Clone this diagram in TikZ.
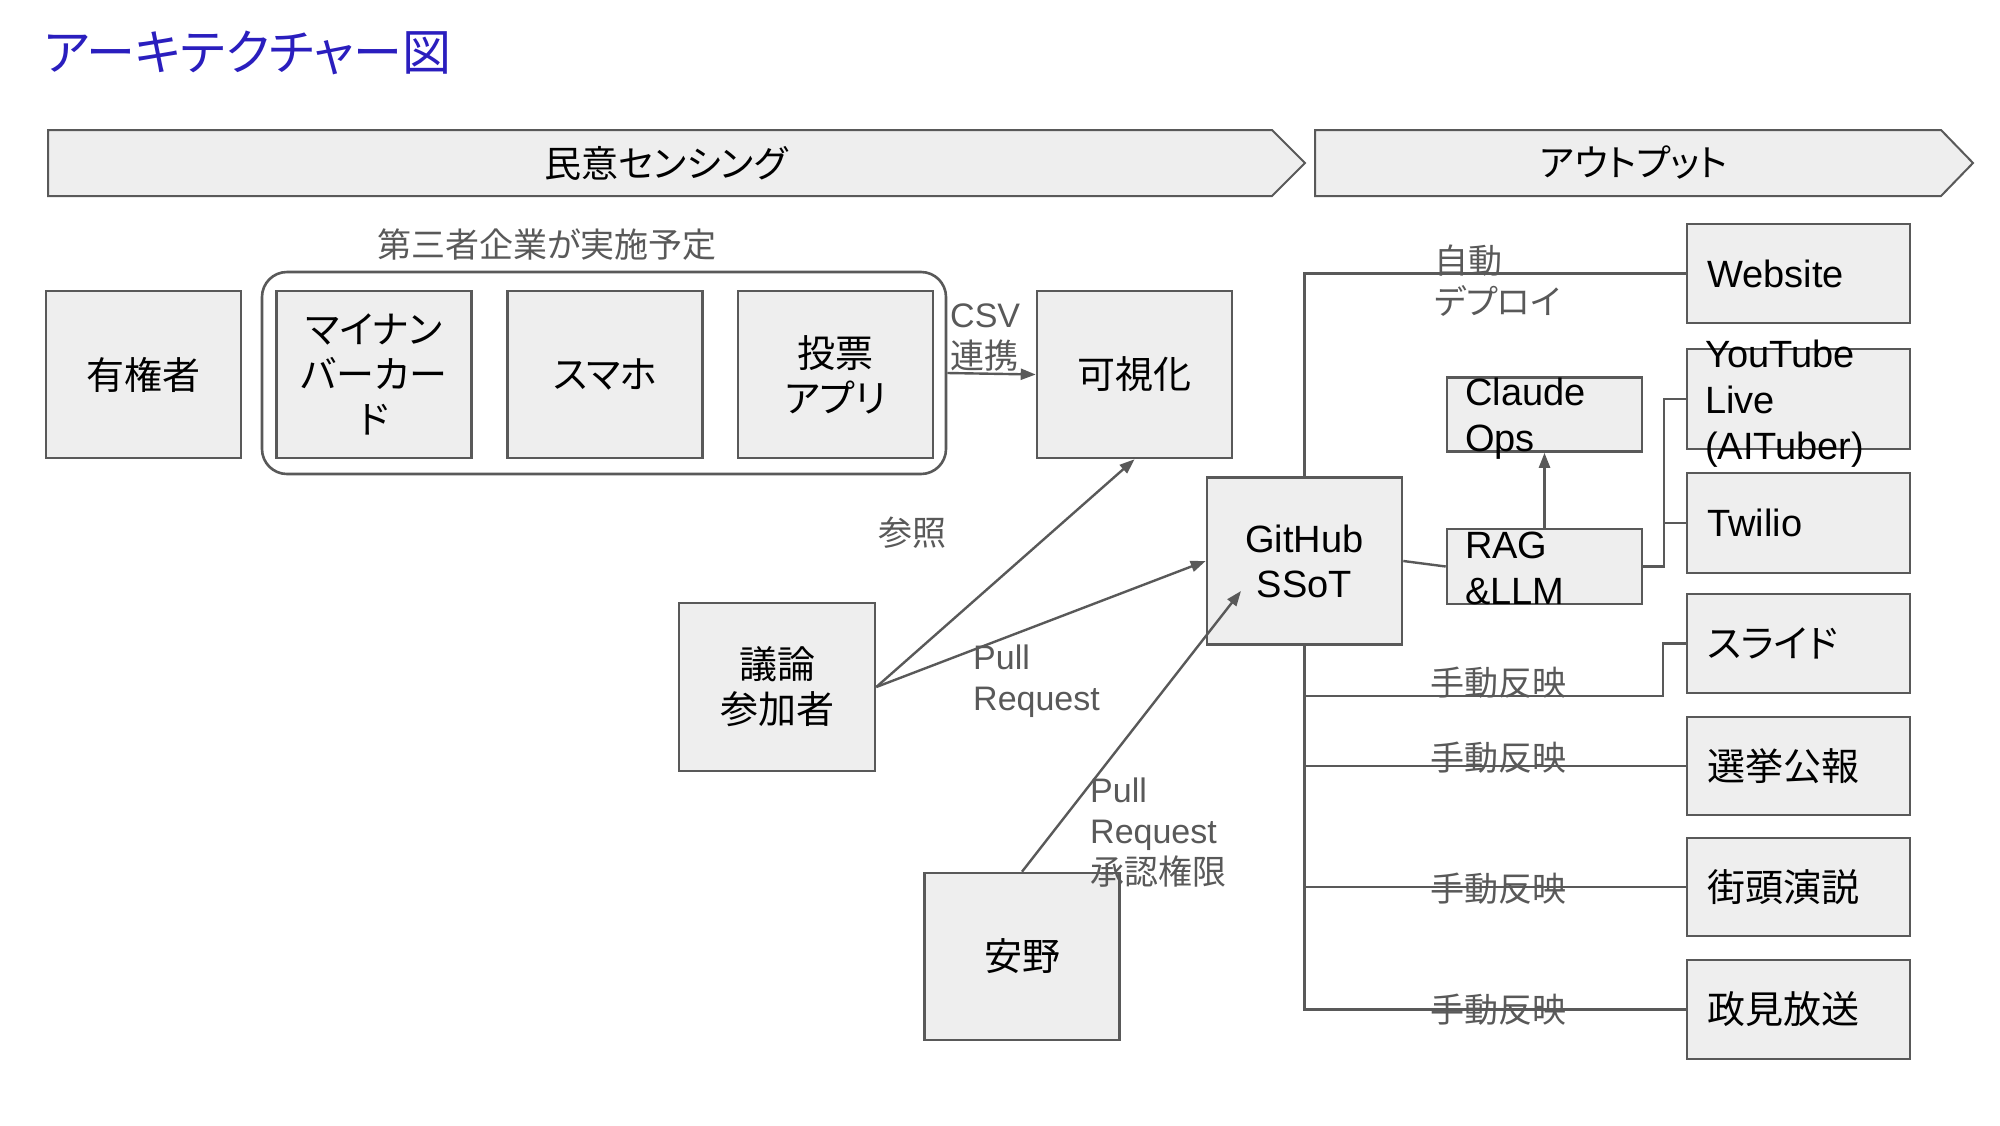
\documentclass[tikz,border=0pt]{standalone}
\usepackage{fontspec}
\setmainfont{Liberation Sans}
\newfontfamily\jpfont[RawFeature=+palt]{Noto Sans CJK JP}
\usetikzlibrary{arrows.meta}
\definecolor{boxfill}{HTML}{EEEEEE}
\definecolor{boxline}{HTML}{595959}
\definecolor{lblgray}{HTML}{595959}
\definecolor{titleblue}{HTML}{2A1EBE}
\newcommand\JP[1]{{\jpfont #1}}
\newcommand\EN[1]{{\normalfont #1}}
\begin{document}
\begin{tikzpicture}[x=1pt,y=-1pt,
  box/.style={draw=boxline, fill=boxfill, line width=2.6pt, inner sep=0pt,
    font=\jpfont\fontsize{38}{45}\selectfont, align=center, text=black},
  sq/.style={box, minimum width=195pt, minimum height=167pt},
  rbox/.style={box, minimum width=223pt, minimum height=99pt},
  mbox/.style={box, minimum width=195pt, minimum height=74pt},
  btxt/.style={inner sep=0pt, font=\fontsize{38}{46}\selectfont, align=left, text=black},
  jbtxt/.style={btxt, font=\jpfont\fontsize{38}{46}\selectfont},
  lbl/.style={inner sep=0pt, font=\jpfont\fontsize{34}{41}\selectfont, align=left, text=lblgray},
  chev/.style={draw=boxline, fill=boxfill, line width=2pt, line join=miter},
  hdr/.style={inner sep=0pt, font=\jpfont\fontsize{37}{44}\selectfont, text=black},
  conn/.style={draw=boxline, line width=2.4pt},
  arr/.style={-{Triangle[length=15pt,width=11pt]}}
]
\fill[white] (0,0) rectangle (2000,1125);
\useasboundingbox (0,0) rectangle (2000,1125);

% title
\node[anchor=west, inner sep=0pt, font=\jpfont\fontsize{49}{54}\selectfont, text=titleblue] (title) at (44,53) {アーキテクチャー図};

% header chevrons
\draw[chev] (48,130) -- (1272,130) -- (1305,163) -- (1272,196) -- (48,196) -- cycle;
\node[hdr] (hdr1) at (666,163) {民意センシング};
\draw[chev] (1315,130) -- (1941,130) -- (1973,163) -- (1941,196) -- (1315,196) -- cycle;
\node[hdr] (hdr2) at (1634,163) {アウトプット};

% group
\node[draw=boxline, line width=2.6pt, rounded corners=25pt, minimum width=684pt, minimum height=202pt] (grp) at (604,373) {};

% left boxes
\node[sq] (yuken) at (143.5,374.5) {有権者};
\node[sq] (mynum) at (374,374.5) {マイナン\\バーカー\\ド};
\node[sq] (sumaho) at (605,374.5) {スマホ};
\node[sq] (touhyou) at (835.5,374.5) {投票\\アプリ};
\node[sq] (vis) at (1134.5,374.5) {可視化};
\node[sq, font=\fontsize{38}{45}\selectfont] (gh) at (1304.5,561) {GitHub\\SSoT};
\node[sq, minimum width=196pt, minimum height=168pt] (giron) at (777,687) {議論\\参加者};
\node[sq] (anno) at (1022,956.5) {安野};

% middle boxes
\node[mbox] (claude) at (1544.5,414.5) {};
\node[mbox, minimum height=75pt] (rag) at (1544.5,566.5) {};

% right boxes
\node[rbox] (web) at (1798.5,273.5) {};
\node[rbox, minimum height=100pt] (yt) at (1798.5,399) {};
\node[rbox, minimum height=100pt] (twilio) at (1798.5,523) {};
\node[rbox] (slide) at (1798.5,643.5) {};
\node[rbox, minimum height=98pt] (kouhou) at (1798.5,766) {};
\node[rbox, minimum height=98pt] (gaitou) at (1798.5,887) {};
\node[rbox] (seiken) at (1798.5,1009.5) {};

% connectors
\draw[conn, arr] (grp.east) -- (vis.west);
\draw[conn, arr] (giron.east) -- (vis.south);
\draw[conn, arr] (giron.east) -- (gh.west);
\coordinate (ghin) at (1241,591);
\draw[conn, arr] (anno.north) -- (ghin);
\draw[conn] (gh.north) |- (web.west);
\draw[conn] (gh.east) -- (rag.west);
\draw[conn, arr] (rag.north) -- (claude.south);
\coordinate (ragj) at (1664,566.5);
\draw[conn] (rag.east) -- (ragj) |- (yt.west);
\draw[conn] (ragj) |- (twilio.west);
\draw[conn] (gh.south) |- (seiken.west);
\draw[conn] (gh.south |- kouhou.west) -- (kouhou.west);
\draw[conn] (gh.south |- gaitou.west) -- (gaitou.west);
\coordinate (slj) at (1663,696);
\draw[conn] (gh.south |- slj) -- (slj) |- (slide.west);

% box texts (left aligned)
\node[btxt, anchor=north west] (claudet) at (1465,378) {Claude\\Ops};
\node[btxt, anchor=north west] (ragt) at (1465,532) {RAG\\\&LLM};
\node[btxt, anchor=west] (webt) at (1707,273.5) {Website};
\node[btxt, anchor=north west] (ytt) at (1705,340) {YouTube\\Live\\(AITuber)};
\node[btxt, anchor=west] (twiliot) at (1707,523) {Twilio};
\node[jbtxt, anchor=west] (slidet) at (1707,643.5) {スライド};
\node[jbtxt, anchor=west] (kouhout) at (1707,766) {選挙公報};
\node[jbtxt, anchor=west] (gaitout) at (1707,887) {街頭演説};
\node[jbtxt, anchor=west] (seikent) at (1707,1009.5) {政見放送};

% labels
\node[lbl] (grplbl) at (547,245) {第三者企業が実施予定};
\node[lbl, anchor=north west] (csvl) at (950,304) {\EN{CSV}\\連携};
\node[lbl] (sansho) at (912,533) {参照};
\node[lbl, anchor=north west] (pr1) at (973,645) {\EN{Pull}\\\EN{Request}};
\node[lbl, anchor=north west] (pr2) at (1090,778) {\EN{Pull}\\\EN{Request}\\承認権限};
\node[lbl, anchor=north west] (deploy) at (1434,245) {自動\\デプロイ};
\node[lbl] (m1) at (1498,683) {手動反映};
\node[lbl] (m2) at (1498,758) {手動反映};
\node[lbl] (m3) at (1498,889) {手動反映};
\node[lbl] (m4) at (1498,1010) {手動反映};
\end{tikzpicture}
\end{document}
